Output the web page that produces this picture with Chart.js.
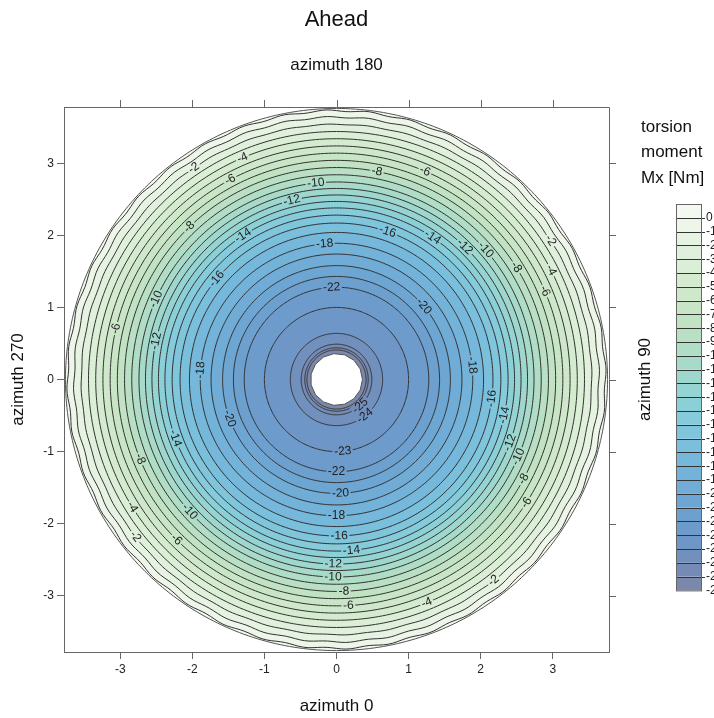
<!DOCTYPE html>
<html>
<head>
<meta charset="utf-8">
<script src="https://cdn.jsdelivr.net/npm/chart.js@4.4.1/dist/chart.umd.min.js"></script>
<style>
  html, body { margin: 0; padding: 0; background: #fff; }
  #wrap { width: 714px; height: 718px; }
</style>
</head>
<body>
<div id="wrap"><canvas id="chart" width="714" height="718"></canvas></div>
<script>
// === DATA: torsion moment Mx [Nm] ===
// contour levels and the radius (in plot units) where each level closes
const levels      = [0, -1, -2, -3, -4, -5, -6, -7, -8, -9, -10, -11, -12, -13,
                     -14, -15, -16, -17, -18, -19, -20, -21, -22, -23, -24, -25, -26, -27];
const levelRadius = [3.73, 3.64, 3.54, 3.44, 3.34, 3.24, 3.14, 3.04, 2.94, 2.84, 2.74, 2.65, 2.56, 2.47,
                     2.38, 2.28, 2.17, 2.04, 1.89, 1.74, 1.58, 1.43, 1.28, 1.0, 0.64, 0.49, 0.44, 0.41];
const outerRadius = 3.76;   // edge of the disc
const holeRadius  = 0.36;   // white hole in the middle

// axis ticks
const tickValues = [-3, -2, -1, 0, 1, 2, 3];

// colour of each band, top of the colour bar first (band above 0, then 0..-1, ...)
const bandColors = ['#f4f9f0', '#edf6e8', '#e7f3e2', '#e1f0dc', '#dbeed6', '#d5ebd0', '#cfe8cb', '#c8e6c6',
                    '#c1e3c4', '#b9e0c4', '#b0ddc6', '#a7dac9', '#9ed7cd', '#95d4d2', '#8cd0d7', '#85cbdb',
                    '#7fc5dc', '#7abfdc', '#76b8db', '#73b2d9', '#70acd6', '#6ea6d3', '#6da0cf', '#6d9bcb',
                    '#6e96c6', '#7190be', '#758bb5', '#7a88ab'];

// contour labels: level and angle (deg, counter-clockwise from +x) where the label sits
const contourLabels = [
  [-2, 124], [-2, 33], [-2, 218], [-2, -52],
  [-4, 113], [-4, 27], [-4, 212], [-4, -68],
  [-6, 118], [-6, 67], [-6, 23], [-6, 167], [-6, 225], [-6, -87], [-6, -33],
  [-8, 134], [-8, 79], [-8, 32], [-8, 202], [-8, -88], [-8, -28],
  [-10, 96], [-10, 156], [-10, 222], [-10, -91], [-10, -23], [-10, 41],
  [-12, 104], [-12, 168], [-12, 46], [-12, -91], [-12, -20],
  [-14, 123], [-14, 200], [-14, 56], [-14, -85], [-14, -12],
  [-16, 140], [-16, 71], [-16, -89], [-16, -7],
  [-18, 95], [-18, 176], [-18, 6], [-18, -90],
  [-20, 200], [-20, 40], [-20, -88],
  [-22, 93], [-22, -90],
  [-23, -85],
  [-24, -52], [-25, -48]
];

// === PLUGIN: filled contour bands, contour lines, labels ===
const contourPlugin = {
  id: 'contours',
  beforeDatasetsDraw(chart) {
    const { ctx, chartArea: area, scales: { x, y } } = chart;
    const cx = x.getPixelForValue(0), cy = y.getPixelForValue(0);
    const kx = x.getPixelForValue(1) - cx, ky = cy - y.getPixelForValue(1);

    // outer contours are a bit wavy in the original
    const wobble = (i) => [0.012, 0.01, 0.005][i] || 0;

    function ring(r, wob, sides) {
      const n = sides || 360;
      ctx.beginPath();
      for (let i = 0; i <= n; i++) {
        const t = i / n * 2 * Math.PI;
        const rr = r + wob * Math.sin(t * 40);
        const px = cx + rr * kx * Math.cos(t), py = cy - rr * ky * Math.sin(t);
        if (i) ctx.lineTo(px, py); else ctx.moveTo(px, py);
      }
      ctx.closePath();
    }

    ctx.save();
    ctx.beginPath();
    ctx.rect(area.left, area.top, area.right - area.left, area.bottom - area.top);
    ctx.clip();

    // bands, outside in
    ctx.fillStyle = bandColors[0];
    ring(outerRadius, 0);
    ctx.fill();
    levels.forEach((v, i) => {
      ctx.fillStyle = bandColors[Math.min(i + 1, bandColors.length - 1)];
      ring(levelRadius[i], wobble(i));
      ctx.fill();
    });
    ctx.fillStyle = '#ffffff';
    ring(holeRadius, 0, 15);
    ctx.fill();

    // label boxes, the lines are broken there
    ctx.font = '12px "Liberation Sans", Arial, sans-serif';
    const boxes = contourLabels.map(([v, a]) => {
      const i = levels.indexOf(v);
      const r = levelRadius[i];
      const t = a * Math.PI / 180;
      const px = cx + r * kx * Math.cos(t), py = cy - r * ky * Math.sin(t);
      let rot = -(a + 90) * Math.PI / 180;
      while (rot > Math.PI / 2) rot -= Math.PI;
      while (rot <= -Math.PI / 2) rot += Math.PI;
      const w = ctx.measureText(String(v)).width + 3;
      return { v, px, py, rot, w, h: 10 };
    });

    ctx.save();
    ctx.beginPath();
    ctx.rect(0, 0, chart.width, chart.height);
    boxes.forEach(b => {
      const c = Math.cos(b.rot), s = Math.sin(b.rot);
      const pts = [[-b.w / 2, -b.h / 2], [b.w / 2, -b.h / 2], [b.w / 2, b.h / 2], [-b.w / 2, b.h / 2]];
      pts.forEach(([u, w], k) => {
        const X = b.px + u * c - w * s, Y = b.py + u * s + w * c;
        if (k) ctx.lineTo(X, Y); else ctx.moveTo(X, Y);
      });
      ctx.closePath();
    });
    ctx.clip('evenodd');

    ctx.strokeStyle = '#333';
    ctx.lineWidth = 1;
    levels.forEach((v, i) => {
      ring(levelRadius[i], wobble(i));
      ctx.stroke();
    });
    ctx.strokeStyle = '#555';
    ring(outerRadius, 0);
    ctx.stroke();
    ring(holeRadius, 0, 15);
    ctx.stroke();
    ctx.restore();

    // label text
    ctx.fillStyle = '#222';
    ctx.textAlign = 'center';
    ctx.textBaseline = 'middle';
    boxes.forEach(b => {
      ctx.save();
      ctx.translate(b.px, b.py);
      ctx.rotate(b.rot);
      ctx.fillText(String(b.v), 0, 0);
      ctx.restore();
    });
    ctx.restore();
  },

  afterDraw(chart) {
    const { ctx, chartArea: area, scales: { x, y } } = chart;
    const font = (s) => s + 'px "Liberation Sans", Arial, sans-serif';
    ctx.save();

    // frame top / right with outward ticks
    ctx.strokeStyle = '#666';
    ctx.lineWidth = 1;
    ctx.beginPath();
    ctx.moveTo(area.left, area.top + 0.5);
    ctx.lineTo(area.right + 0.5, area.top + 0.5);
    ctx.lineTo(area.right + 0.5, area.bottom);
    tickValues.forEach(t => {
      const px = Math.round(x.getPixelForValue(t)) + 0.5;
      ctx.moveTo(px, area.top);
      ctx.lineTo(px, area.top - 7);
      const py = Math.round(y.getPixelForValue(t)) + 0.5;
      ctx.moveTo(area.right, py);
      ctx.lineTo(area.right + 7, py);
    });
    ctx.stroke();

    // titles
    const mid = (area.left + area.right) / 2;
    ctx.fillStyle = '#111';
    ctx.textAlign = 'center';
    ctx.textBaseline = 'middle';
    ctx.font = font(22);
    ctx.fillText('Ahead', mid, 20);
    ctx.font = font(17);
    ctx.fillText('azimuth 180', mid, 65);

    ctx.save();
    ctx.translate(645, (area.top + area.bottom) / 2);
    ctx.rotate(-Math.PI / 2);
    ctx.fillText('azimuth 90', 0, 0);
    ctx.restore();

    ctx.textAlign = 'left';
    ctx.fillText('torsion', 641, 127);
    ctx.fillText('moment', 641, 152);
    ctx.fillText('Mx [Nm]', 641, 178);

    // colour bar
    const barL = 676, barW = 25, barTop = 204, cell = 13.8;
    bandColors.forEach((c, i) => {
      ctx.fillStyle = c;
      ctx.fillRect(barL, barTop + i * cell, barW, cell);
    });
    ctx.strokeStyle = '#333';
    ctx.lineWidth = 1;
    for (let i = 1; i < bandColors.length; i++) {
      const yy = Math.round(barTop + i * cell) + 0.5;
      ctx.beginPath();
      ctx.moveTo(barL, yy);
      ctx.lineTo(barL + barW + 4, yy);
      ctx.stroke();
    }
    ctx.strokeStyle = '#666';
    ctx.strokeRect(barL + 0.5, barTop + 0.5, barW, bandColors.length * cell);
    ctx.fillStyle = '#222';
    ctx.font = font(12);
    ctx.textAlign = 'left';
    levels.forEach((v, i) => {
      ctx.fillText(String(v), barL + barW + 5, barTop + (i + 1) * cell);
    });
    ctx.restore();
  }
};

// === CHART ===
const axisFont = { family: '"Liberation Sans", Arial, sans-serif', size: 12 };
const titleFont = { family: '"Liberation Sans", Arial, sans-serif', size: 17 };

new Chart(document.getElementById('chart'), {
  type: 'scatter',
  data: { datasets: [{ data: [], showLine: false }] },
  options: {
    responsive: false,
    animation: false,
    devicePixelRatio: 1,
    layout: { padding: { top: 107, right: 105, left: 0, bottom: 0 } },
    plugins: { legend: { display: false }, tooltip: { enabled: false } },
    scales: {
      x: {
        type: 'linear', position: 'bottom', min: -3.78, max: 3.78,
        afterBuildTicks: (s) => { s.ticks = tickValues.map(v => ({ value: v })); },
        afterFit: (s) => { s.height = 66; },
        grid: { drawOnChartArea: false, drawTicks: true, tickLength: 7, color: '#666' },
        border: { display: true, color: '#666' },
        ticks: { color: '#222', font: axisFont, padding: 3, maxRotation: 0 },
        title: { display: true, text: 'azimuth 0', color: '#111', font: titleFont, padding: { top: 4, bottom: 1 } }
      },
      y: {
        type: 'linear', position: 'left', min: -3.78, max: 3.78,
        afterBuildTicks: (s) => { s.ticks = tickValues.map(v => ({ value: v })); },
        afterFit: (s) => { s.width = 64; },
        grid: { drawOnChartArea: false, drawTicks: true, tickLength: 7, color: '#666' },
        border: { display: true, color: '#666' },
        ticks: { color: '#222', font: axisFont, padding: 3 },
        title: { display: true, text: 'azimuth 270', color: '#111', font: titleFont, padding: { top: 8, bottom: 0 } }
      }
    }
  },
  plugins: [contourPlugin]
});
</script>
</body>
</html>
